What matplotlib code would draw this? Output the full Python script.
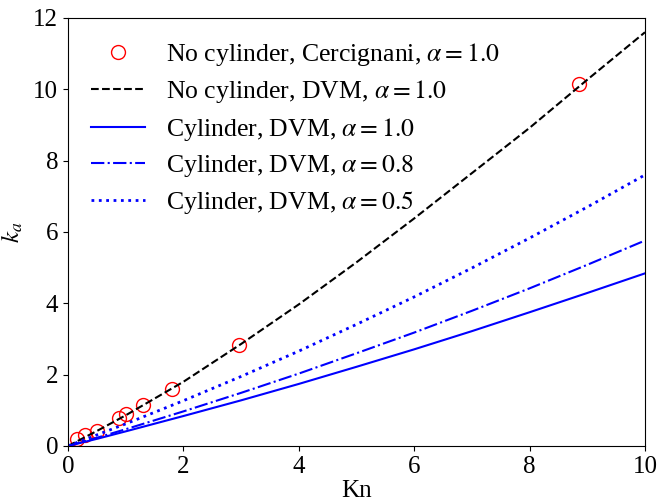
import matplotlib
matplotlib.use('Agg')
import matplotlib.pyplot as plt

plt.rcParams['font.family'] = 'Liberation Serif'
plt.rcParams['mathtext.fontset'] = 'stix'

# Cercignani reference points (no cylinder)
kn_cerc = [0.15, 0.3, 0.5, 0.88, 1.0, 1.3, 1.8, 2.97, 8.86]
ka_cerc = [0.2, 0.3, 0.42, 0.79, 0.9, 1.14, 1.6, 2.83, 10.15]

# DVM curves
kn_dvm = [0.0, 0.5, 1, 2, 3, 4, 5, 6, 7, 8, 9, 10]
ka_nocyl = [0.0, 0.42, 0.86, 1.80, 2.86, 3.97, 5.15, 6.38, 7.65, 8.92, 10.27, 11.6]
ka_cyl_10 = [0.0, 0.20, 0.41, 0.84, 1.28, 1.74, 2.22, 2.71, 3.22, 3.75, 4.29, 4.84]
ka_cyl_08 = [0.0, 0.23, 0.47, 0.97, 1.49, 2.03, 2.60, 3.18, 3.79, 4.42, 5.08, 5.76]
ka_cyl_05 = [0.0, 0.31, 0.62, 1.27, 1.95, 2.66, 3.41, 4.18, 4.99, 5.83, 6.70, 7.60]

fig = plt.figure(figsize=(6.57, 5.04), dpi=100)
ax = fig.add_axes([0.1035, 0.1151, 0.8782, 0.8492])

ax.plot(kn_cerc, ka_cerc, 'o', mfc='none', mec='red', ms=10, mew=1.0,
        label=r'No cylinder, Cercignani, $\alpha=1.0$')
ax.plot(kn_dvm, ka_nocyl, 'k--', lw=1.5, label=r'No cylinder, DVM, $\alpha=1.0$')
ax.plot(kn_dvm, ka_cyl_10, '-', color='blue', lw=1.5, label=r'Cylinder, DVM, $\alpha=1.0$')
ax.plot(kn_dvm, ka_cyl_08, '-.', color='blue', lw=1.5, label=r'Cylinder, DVM, $\alpha=0.8$')
ax.plot(kn_dvm, ka_cyl_05, ':', color='blue', lw=2, label=r'Cylinder, DVM, $\alpha=0.5$')

ax.set_xlim(0, 10)
ax.set_ylim(0, 12)
ax.set_xticks([0, 2, 4, 6, 8, 10])
ax.set_yticks([0, 2, 4, 6, 8, 10, 12])
ax.tick_params(labelsize=18)
ax.set_xlabel('Kn', fontsize=18, labelpad=2)
ax.set_ylabel(r'$k_a$', fontsize=18, labelpad=6)

ax.legend(loc='upper left', frameon=False, fontsize=18.5, handlelength=2.1,
          labelspacing=0.4, borderaxespad=0.5)

fig.savefig('out.png', dpi=100)
